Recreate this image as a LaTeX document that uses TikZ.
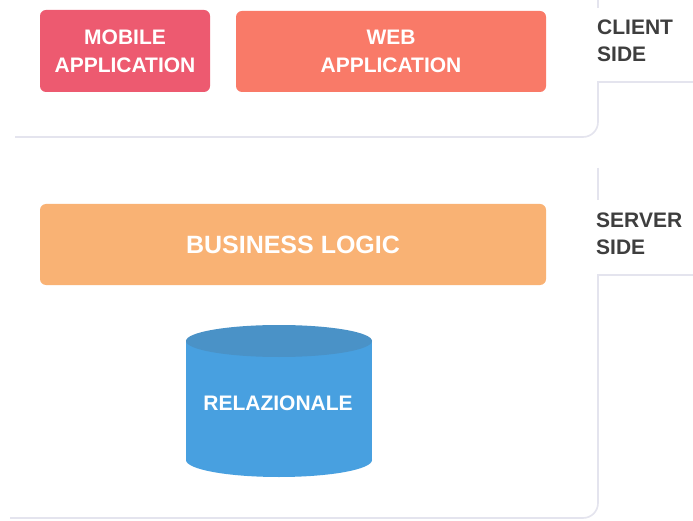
\documentclass[tikz,border=0pt]{standalone}
\usepackage{fontspec}
\setmainfont{Liberation Sans}
\definecolor{mob}{RGB}{237,90,112}
\definecolor{web}{RGB}{249,122,104}
\definecolor{biz}{RGB}{249,178,116}
\definecolor{dbbody}{RGB}{72,160,224}
\definecolor{dbtop}{RGB}{74,146,199}
\definecolor{lbl}{RGB}{62,62,62}
\definecolor{panelline}{RGB}{228,228,238}
\begin{document}
\begin{tikzpicture}[x=1pt,y=-1pt,
  box/.style={rounded corners=6pt, inner sep=0pt, align=center, text=white,
    font=\fontsize{21}{28}\selectfont\bfseries},
  sidelabel/.style={anchor=west, align=left, inner sep=0pt, text=lbl,
    font=\fontsize{21}{27.5}\selectfont\bfseries},
  panel/.style={draw=panelline, line width=1.6pt}]
\useasboundingbox[fill=white] (0,0) rectangle (693,521);
% panels
\draw[panel] (15,137) -- (583,137) .. controls (591.3,137) and (598,130.3) .. (598,122) -- (598,82) -- (693,82);
\draw[panel] (598,0) -- (598,8);
\draw[panel] (598,168) -- (598,200);
\draw[panel] (693,275) -- (598,275) -- (598,503) .. controls (598,511.3) and (591.3,518) .. (583,518) -- (10,518);
% client side
\node[box, fill=mob, minimum width=170pt, minimum height=82pt] (mobile) at (125,51) {MOBILE\\APPLICATION};
\node[box, fill=web, minimum width=310pt, minimum height=81pt] (webapp) at (391,51.5) {WEB\\APPLICATION};
\node[sidelabel] (client) at (597,41) {CLIENT\\SIDE};
% server side
\node[box, fill=biz, minimum width=506pt, minimum height=81pt, font=\fontsize{25}{30}\selectfont\bfseries] (biz) at (293,244.5) {BUSINESS LOGIC};
\node[sidelabel] (server) at (596,234) {SERVER\\SIDE};
% database cylinder
\fill[dbbody] (186,341) rectangle (372,460);
\fill[dbbody] (279,460) ellipse [x radius=93, y radius=17];
\fill[dbtop] (279,341) ellipse [x radius=93, y radius=16];
\node[text=white, inner sep=0pt, font=\fontsize{21}{25}\selectfont\bfseries] (db) at (278,403) {RELAZIONALE};
\end{tikzpicture}
\end{document}
